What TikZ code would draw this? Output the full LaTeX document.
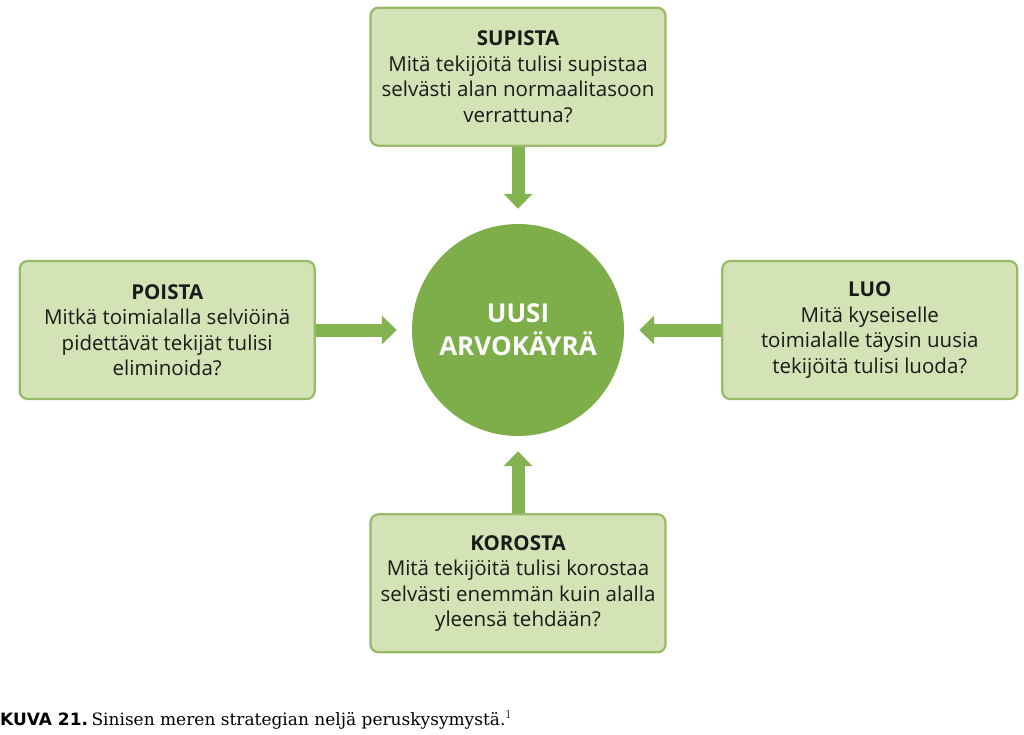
\documentclass[tikz,border=0pt]{standalone}
\usepackage{fontspec}
\setmainfont{Open Sans}
\newfontfamily\capsans{DejaVu Sans}
\newfontfamily\capserif{DejaVu Serif}
\usetikzlibrary{positioning,arrows.meta}

\definecolor{boxfill}{RGB}{211,227,182}
\definecolor{boxline}{RGB}{150,186,104}
\definecolor{ringfill}{RGB}{125,174,74}
\definecolor{arrowgreen}{RGB}{132,179,82}
\definecolor{boxtext}{RGB}{26,26,26}

\tikzset{
  question/.style={draw=boxline, line width=2.2pt, fill=boxfill, rounded corners=8pt,
    minimum width=295pt, minimum height=138pt, inner sep=0pt, align=center,
    text=boxtext, font=\fontsize{20.5}{25.5}\selectfont},
  core/.style={circle, fill=ringfill, minimum size=212pt, inner sep=0pt, align=center,
    text=white, font=\bfseries\fontsize{26}{33}\selectfont},
  push/.style={draw=arrowgreen, line width=13pt, shorten >=15pt,
    -{Triangle[width=28pt,length=15pt]}, arrowgreen}
}

\begin{document}
\begin{tikzpicture}[x=1pt,y=-1pt]
\useasboundingbox (0,0) rectangle (1024,734);
\node[core] (value) at (518,330) {UUSI\\ARVOKÄYRÄ};
\node[question, above=77pt of value] (reduce) {\textbf{SUPISTA}\\Mitä tekijöitä tulisi supistaa\\selvästi alan normaalitasoon\\verrattuna?};
\node[question, below=77pt of value] (raise) {\textbf{KOROSTA}\\Mitä tekijöitä tulisi korostaa\\selvästi enemmän kuin alalla\\yleensä tehdään?};
\node[question, left=96pt of value] (eliminate) {\textbf{POISTA}\\Mitkä toimialalla selviöinä\\pidettävät tekijät tulisi\\eliminoida?};
\node[question, right=97pt of value] (create) {\textbf{LUO}\\Mitä kyseiselle\\toimialalle täysin uusia\\tekijöitä tulisi luoda?};
\path[push]
  (reduce) edge (value)
  (raise) edge (value)
  (eliminate) edge (value)
  (create) edge (value);
\node[anchor=base west, inner sep=0pt] (caption) at (0,725)
  {{\capsans\bfseries\fontsize{17}{20}\selectfont KUVA 21.} {\capserif\fontsize{17}{20}\selectfont Sinisen meren strategian neljä peruskysymystä.$^1$}};
\end{tikzpicture}
\end{document}
